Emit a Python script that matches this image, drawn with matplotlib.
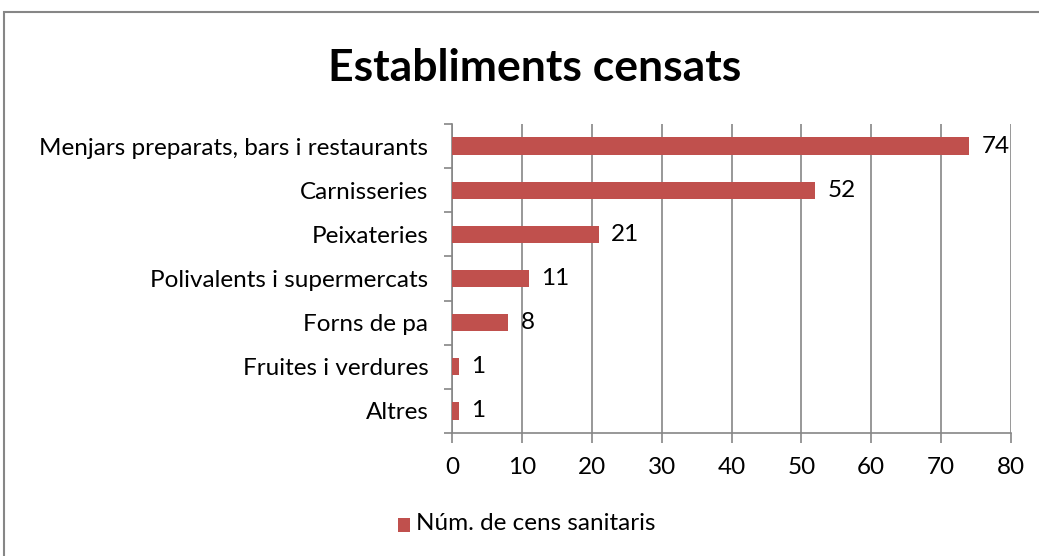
import matplotlib
matplotlib.use("Agg")
import matplotlib.pyplot as plt
from matplotlib.patches import Rectangle

categories = ["Menjars preparats, bars i restaurants", "Carnisseries", "Peixateries",
              "Polivalents i supermercats", "Forns de pa", "Fruites i verdures", "Altres"]
values = [74, 52, 21, 11, 8, 1, 1]
xticks = [0, 10, 20, 30, 40, 50, 60, 70, 80]
series_name = "Núm. de cens sanitaris"
title = "Establiments censats"

plt.rcParams['font.family'] = ['Lato', 'DejaVu Sans']
W, H = 1039, 556
fig = plt.figure(figsize=(W/100, H/100), dpi=100)
fig.patch.set_facecolor("white")

# chart border
fig.add_artist(Rectangle((4/W, -0.05), 1.1, 1 - 12/H + 0.05, transform=fig.transFigure,
                         fill=False, edgecolor="#868686", linewidth=1.5))

FS = 17.5
x0, x1 = 452, 1011
y0, y1 = 124, 433
ax = fig.add_axes([x0/W, 1 - y1/H, (x1-x0)/W, (y1-y0)/H])
n = len(categories)
pos = list(range(n))[::-1]
color = "#C0504D"
ax.barh(pos, values, height=0.39, color=color, zorder=3)
ax.set_xlim(0, 80)
ax.set_ylim(-0.5, n - 0.5)
ax.set_xticks(xticks)
ax.set_xticklabels([str(t) for t in xticks])
ax.set_yticks(pos)
ax.set_yticklabels(categories)
ax.set_yticks([i - 0.5 for i in range(n + 1)], minor=True)
ax.tick_params(axis='y', which='major', length=0, pad=17, labelsize=FS)
ax.tick_params(axis='y', which='minor', length=6, color="#868686", width=1.2)
ax.tick_params(axis='x', length=7, color="#868686", width=1.2, pad=10, labelsize=FS)
for s in ["top", "right"]:
    ax.spines[s].set_visible(False)
for s in ["left", "bottom"]:
    ax.spines[s].set_color("#868686")
    ax.spines[s].set_linewidth(1.2)
ax.xaxis.grid(True, color="#868686", linewidth=1.2, zorder=0)
ax.set_axisbelow(True)

for p, v in zip(pos, values):
    ax.annotate(str(v), (v, p), xytext=(9, 0), textcoords="offset points",
                ha="left", va="center", fontsize=FS, zorder=4)

fig.text(535/W, 1 - 68/H, title, ha="center", va="center", fontsize=32, fontweight="bold")

# legend
fig.add_artist(Rectangle((398/W, 1 - 532/H), 12/W, 14/H, transform=fig.transFigure,
                         facecolor=color, edgecolor="none"))
fig.text(416/W, 1 - 524/H, series_name, ha="left", va="center", fontsize=FS)

fig.savefig("out.png", dpi=100)
